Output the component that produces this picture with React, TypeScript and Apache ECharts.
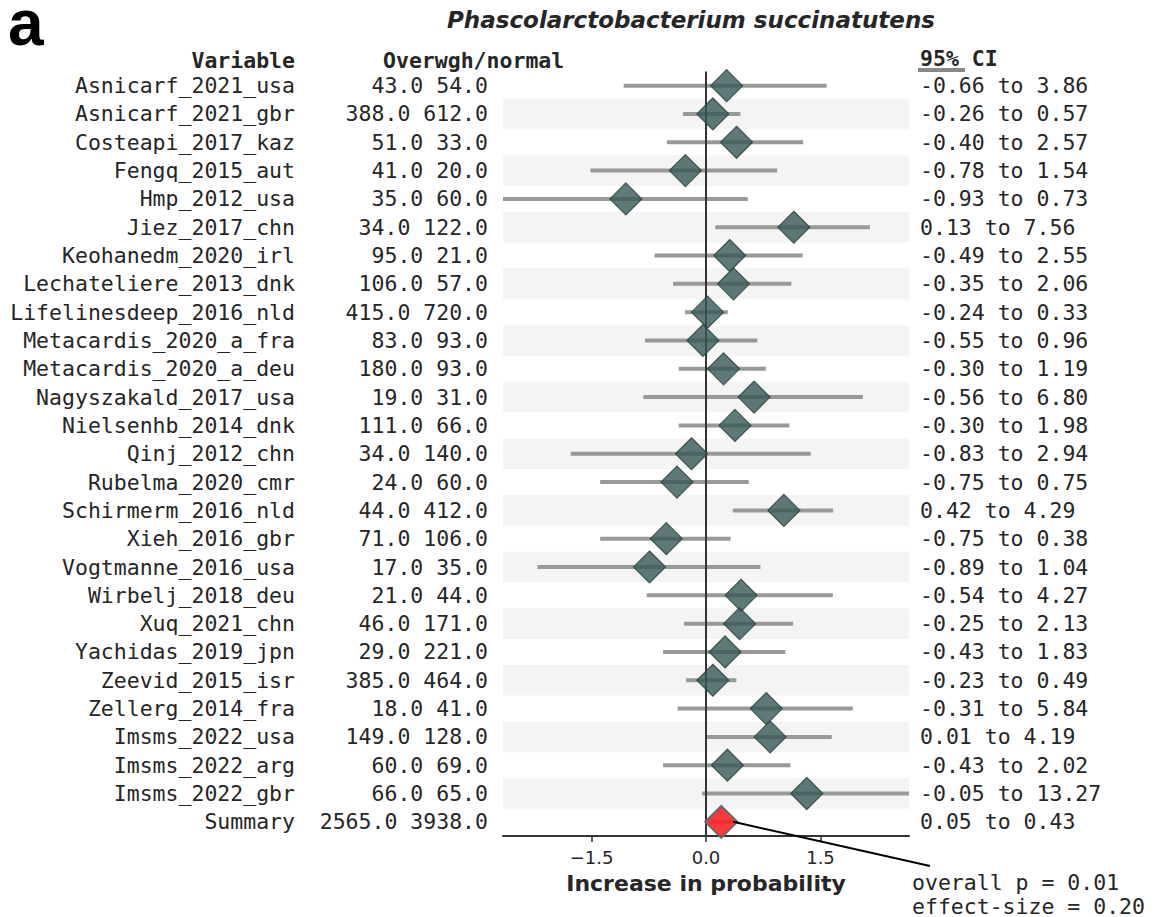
import React, { useEffect, useRef } from "react";
import * as echarts from "echarts";

const studies = [
  "Asnicarf_2021_usa", "Asnicarf_2021_gbr", "Costeapi_2017_kaz", "Fengq_2015_aut", "Hmp_2012_usa",
  "Jiez_2017_chn", "Keohanedm_2020_irl", "Lechateliere_2013_dnk", "Lifelinesdeep_2016_nld",
  "Metacardis_2020_a_fra", "Metacardis_2020_a_deu", "Nagyszakald_2017_usa", "Nielsenhb_2014_dnk",
  "Qinj_2012_chn", "Rubelma_2020_cmr", "Schirmerm_2016_nld", "Xieh_2016_gbr", "Vogtmanne_2016_usa",
  "Wirbelj_2018_deu", "Xuq_2021_chn", "Yachidas_2019_jpn", "Zeevid_2015_isr", "Zellerg_2014_fra",
  "Imsms_2022_usa", "Imsms_2022_arg", "Imsms_2022_gbr", "Summary",
];
const overweight = [43, 388, 51, 41, 35, 34, 95, 106, 415, 83, 180, 19, 111, 34, 24, 44, 71, 17, 21, 46, 29, 385, 18, 149, 60, 66, 2565];
const normal = [54, 612, 33, 20, 60, 122, 21, 57, 720, 93, 93, 31, 66, 140, 60, 412, 106, 35, 44, 171, 221, 464, 41, 128, 69, 65, 3938];
const ciLow = [-0.66, -0.26, -0.40, -0.78, -0.93, 0.13, -0.49, -0.35, -0.24, -0.55, -0.30, -0.56, -0.30, -0.83, -0.75, 0.42, -0.75, -0.89, -0.54, -0.25, -0.43, -0.23, -0.31, 0.01, -0.43, -0.05, 0.05];
const ciHigh = [3.86, 0.57, 2.57, 1.54, 0.73, 7.56, 2.55, 2.06, 0.33, 0.96, 1.19, 6.80, 1.98, 2.94, 0.75, 4.29, 0.38, 1.04, 4.27, 2.13, 1.83, 0.49, 5.84, 4.19, 2.02, 13.27, 0.43];
// point estimates on the plotted (log) scale
const effect = [0.27, 0.09, 0.40, -0.27, -1.05, 1.15, 0.31, 0.36, 0.02, -0.04, 0.23, 0.63, 0.38, -0.19, -0.38, 1.02, -0.52, -0.74, 0.46, 0.44, 0.25, 0.09, 0.79, 0.84, 0.28, 1.32, 0.20];
const xTicks = [-1.5, 0, 1.5];
const titleText = "Phascolarctobacterium succinatutens";
const overallP = "0.01";
const effectSize = "0.20";

export default function App() {
  const ref = useRef<HTMLDivElement>(null);
  useEffect(() => {
    const chart = echarts.init(ref.current!, null, { renderer: "svg" });
    const n = studies.length;
    const idx = studies.map((_, i) => i);
    const logLo = ciLow.map((v) => Math.log(1 + v));
    const logHi = ciHigh.map((v) => Math.log(1 + v));
    const lim = Math.max(...logLo.map(Math.abs), ...logHi.map(Math.abs));
    const mono = "'DejaVu Sans Mono', monospace";
    const sans = "'DejaVu Sans', sans-serif";
    const txt = "#262626";
    const fs = 21.5;
    const fmtCI = (i: number) => `${ciLow[i].toFixed(2)} to ${ciHigh[i].toFixed(2)}`;
    const rowAxis = (position: string, margin: number, fmt: (i: number) => string) => ({
      type: "value",
      inverse: true,
      min: -0.5,
      max: n - 0.5,
      position,
      axisLine: { show: false },
      axisTick: { show: false },
      splitLine: { show: false },
      axisLabel: {
        customValues: idx,
        margin,
        fontFamily: mono,
        fontSize: fs,
        color: txt,
        showMinLabel: true,
        showMaxLabel: true,
        formatter: (v: number) => fmt(Math.round(v)),
      },
    });
    const option: any = {
      animation: false,
      grid: { left: 503, width: 406, top: 71.5, height: 764.5 },
      xAxis: {
        type: "value",
        min: -lim,
        max: lim,
        axisLine: { show: true, onZero: false, lineStyle: { color: "#333", width: 2 } },
        axisTick: { show: true, customValues: xTicks, length: 6, lineStyle: { color: "#333", width: 1.5 } },
        axisLabel: {
          customValues: xTicks,
          formatter: (v: number) => (v < 0 ? "\u2212" + Math.abs(v).toFixed(1) : v.toFixed(1)),
          fontFamily: sans,
          fontSize: 18,
          color: txt,
          margin: 12,
        },
        splitLine: { show: false },
        name: "Increase in probability",
        nameLocation: "middle",
        nameGap: 36,
        nameTextStyle: { fontFamily: sans, fontWeight: "bold", fontSize: 22, color: txt },
      },
      yAxis: [
        rowAxis("left", 208, (i) => studies[i]),
        rowAxis("left", 15, (i) => `${overweight[i].toFixed(1)} ${normal[i].toFixed(1)}`),
        rowAxis("right", 11, fmtCI),
      ],
      series: [
        {
          type: "custom",
          silent: true,
          z: 0,
          data: idx.filter((i) => i % 2 === 1).map((i) => [0, i]),
          encode: { x: 0, y: 1 },
          renderItem: (params: any, api: any) => {
            const c = api.coord([0, api.value(1)]);
            const cs = params.coordSys;
            return {
              type: "rect",
              shape: { x: cs.x, y: c[1] - 15.3, width: cs.width, height: 30.6 },
              style: { fill: "#f4f4f4" },
            };
          },
        },
        {
          type: "custom",
          silent: true,
          z: 2,
          data: idx.map((i) => [logLo[i], logHi[i], i]),
          encode: { x: [0, 1], y: 2 },
          renderItem: (_params: any, api: any) => {
            const p1 = api.coord([api.value(0), api.value(2)]);
            const p2 = api.coord([api.value(1), api.value(2)]);
            return {
              type: "line",
              shape: { x1: p1[0], y1: p1[1], x2: p2[0], y2: p2[1] },
              style: { stroke: "#999", lineWidth: 4 },
            };
          },
        },
        {
          type: "custom",
          silent: true,
          z: 3,
          data: [[0, -0.5, n - 0.5]],
          encode: { x: 0, y: [1, 2] },
          renderItem: (_params: any, api: any) => {
            const p1 = api.coord([api.value(0), api.value(1)]);
            const p2 = api.coord([api.value(0), api.value(2)]);
            return {
              type: "line",
              shape: { x1: p1[0], y1: p1[1], x2: p2[0], y2: p2[1] },
              style: { stroke: "#333", lineWidth: 2 },
            };
          },
        },
        {
          type: "scatter",
          silent: true,
          z: 4,
          symbol: "diamond",
          symbolSize: 32,
          itemStyle: { color: "rgba(54,89,86,0.8)", borderColor: "rgba(42,70,67,0.85)", borderWidth: 1.2, opacity: 1 },
          data: idx.map((i) =>
            i === n - 1
              ? {
                  value: [effect[i], i],
                  itemStyle: { color: "rgba(255,30,30,0.88)", borderColor: "#5e6d6c", borderWidth: 2 },
                }
              : [effect[i], i]
          ),
        },
      ],
    };
    chart.setOption(option);
    const sp = chart.convertToPixel({ xAxisIndex: 0, yAxisIndex: 0 }, [effect[n - 1], n - 1]) as number[];
    const monoBold = `bold ${fs}px 'DejaVu Sans Mono', monospace`;
    const monoReg = `${fs}px 'DejaVu Sans Mono', monospace`;
    chart.setOption({
      graphic: [
        { type: "text", style: { text: "a", x: 8, y: 3, lineHeight: 40, textVerticalAlign: "top", font: "bold 64px 'Liberation Sans', sans-serif", fill: "#000" } },
        { type: "text", style: { text: titleText, x: 691, y: 20, textAlign: "center", textVerticalAlign: "middle", font: "italic bold 23px 'DejaVu Sans', sans-serif", fill: txt } },
        { type: "text", style: { text: "Variable", x: 295, y: 60, textAlign: "right", textVerticalAlign: "middle", font: monoBold, fill: txt } },
        { type: "text", style: { text: "Overwgh/normal", x: 383, y: 60, textAlign: "left", textVerticalAlign: "middle", font: monoBold, fill: txt } },
        { type: "text", style: { text: "95% CI", x: 920, y: 58, textAlign: "left", textVerticalAlign: "middle", font: monoBold, fill: txt } },
        { type: "line", shape: { x1: 918, y1: 70, x2: 965, y2: 70 }, style: { stroke: "#888", lineWidth: 4 } },
        { type: "line", z: 10, shape: { x1: sp[0] + 12, y1: sp[1], x2: 930, y2: 866 }, style: { stroke: "#000", lineWidth: 2 } },
        { type: "text", style: { text: `overall p = ${overallP}`, x: 912, y: 882, textAlign: "left", textVerticalAlign: "middle", font: monoReg, fill: txt } },
        { type: "text", style: { text: `effect-size = ${effectSize}`, x: 912, y: 906, textAlign: "left", textVerticalAlign: "middle", font: monoReg, fill: txt } },
      ],
    });
    return () => chart.dispose();
  }, []);
  return <div ref={ref} style={{ position: "absolute", left: 0, top: 0, width: 1153, height: 917 }} />;
}
